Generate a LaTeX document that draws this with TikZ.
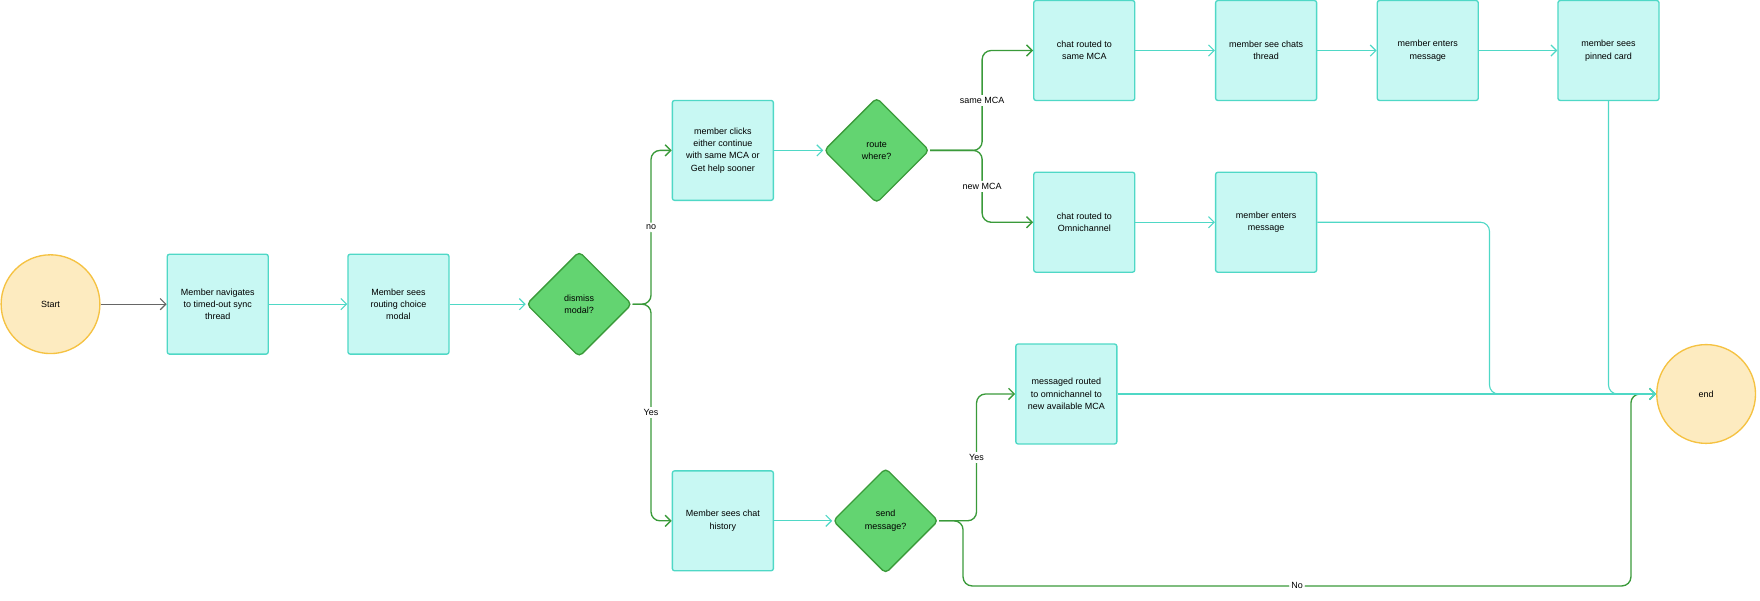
\documentclass[tikz,border=0pt]{standalone}
\usepackage{fontspec}
\setmainfont{Liberation Sans}
\usetikzlibrary{shapes.geometric,arrows.meta}
\definecolor{boxfill}{HTML}{C8F8F3}
\definecolor{boxline}{HTML}{4FD8C6}
\definecolor{dfill}{HTML}{63D471}
\definecolor{dline}{HTML}{3A9A3A}
\definecolor{cfill}{HTML}{FDEBC0}
\definecolor{cline}{HTML}{F5C242}
\begin{document}
\begin{tikzpicture}[x=1pt,y=-1pt,font=\fontsize{8}{11}\selectfont,
 box/.style={draw=boxline,fill=boxfill,line width=1.2pt,rounded corners=2pt,minimum width=90pt,minimum height=89pt,align=center},
 dia/.style={draw=dline,fill=dfill,diamond,line width=1.2pt,rounded corners=4pt,minimum width=94pt,minimum height=94pt,inner sep=0pt,align=center},
 circ/.style={draw=cline,fill=cfill,circle,line width=1.2pt,minimum size=88pt},
 ta/.style={draw=boxline,line width=1pt,-{Straight Barb[length=5pt,width=10pt]},rounded corners=8pt},
 ga/.style={draw=dline,line width=1.2pt,-{Straight Barb[length=5pt,width=10pt]},rounded corners=8pt},
 lab/.style={fill=white,inner sep=2pt}]
\useasboundingbox (0,0) rectangle (1568,535);
\node[circ] (start) at (45,271) {Start};
\node[box] (b1) at (194,271) {Member navigates\\to timed-out sync\\thread};
\node[box] (b2) at (355,271) {Member sees\\routing choice\\modal};
\node[dia] (d1) at (516,271) {dismiss\\modal?};
\node[box] (b3) at (644,134) {member clicks\\either continue\\with same MCA or\\Get help sooner};
\node[dia] (d2) at (781,134) {route\\where?};
\node[box] (c1) at (966,45) {chat routed to\\same MCA};
\node[box] (c2) at (1128,45) {member see chats\\thread};
\node[box] (c3) at (1272,45) {member enters\\message};
\node[box] (c4) at (1433,45) {member sees\\pinned card};
\node[box] (o1) at (966,198) {chat routed to\\Omnichannel};
\node[box] (o2) at (1128,198) {member enters\\message};
\node[box] (m1) at (950,351) {messaged routed\\to omnichannel to\\new available MCA};
\node[circ] (end) at (1520,351) {end};
\node[box] (h1) at (644,464) {Member sees chat\\history};
\node[dia] (d3) at (789,464) {send\\message?};
\coordinate (j1) at (580,271);
\coordinate (j2) at (875,134);
\coordinate (j3) at (870,464);
\coordinate (j4) at (858,464);
\draw[draw=gray!80!black,line width=1pt,-{Straight Barb[length=5pt,width=10pt]}] (start) -- (b1);
\draw[ta] (b1) -- (b2);
\draw[ta] (b2) -- (d1);
\draw[ga] (d1.east) -- (j1) |- node[lab,pos=0.25]{no} (b3.west);
\draw[ga] (d1.east) -- (j1) |- node[lab,pos=0.25]{Yes} (h1.west);
\draw[ta] (b3) -- (d2);
\draw[ga] (d2.east) -- (j2) |- node[lab,pos=0.25]{same MCA} (c1.west);
\draw[ga] (d2.east) -- (j2) |- node[lab,pos=0.25]{new MCA} (o1.west);
\draw[ta] (c1) -- (c2);
\draw[ta] (c2) -- (c3);
\draw[ta] (c3) -- (c4);
\draw[ta] (o1) -- (o2);
\draw[ta] (h1) -- (d3);
\draw[ga] (d3.east) -- (j3) |- node[lab,pos=0.25]{Yes} (m1.west);
\draw[ga] (d3.east) -- (j4) -- (858,522) -- node[lab]{No} (1453,522) -- (1453,351) -- (end.west);
\draw[ta] (o2.east) -- (1327,198) -- (1327,351) -- (end.west);
\draw[ta] (c4.south) -- (1433,351) -- (end.west);
\draw[ta] (m1) -- (end);
\end{tikzpicture}
\end{document}
